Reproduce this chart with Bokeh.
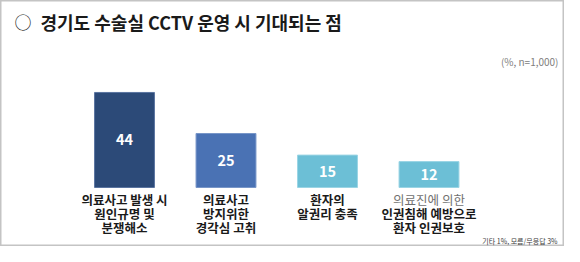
from bokeh.plotting import figure
from bokeh.models import Range1d, Label, ColumnDataSource
from bokeh.core.properties import value
from bokeh.embed import file_html
from bokeh.resources import INLINE
import numpy as np

title_mark = "○"
title_text = "경기도 수술실 CCTV 운영 시 기대되는 점"
unit_note = "(%, n=1,000)"
foot_note = "기타 1%, 모름/무응답 3%"
categories = ["의료사고 발생 시\n원인규명 및\n분쟁해소",
              "의료사고\n방지위한\n경각심 고취",
              "환자의\n알권리 충족",
              "의료진에 의한\n인권침해 예방으로\n환자 인권보호"]
values = [44, 25, 15, 12]
colors = ["#2c4a78", "#4a72b4", "#6cbfd6", "#6cbfd6"]
edge_colors = ["#5a74a0", "#7896c8", "#9ad4e4", "#9ad4e4"]

FONT = "Noto Sans CJK KR"
W, H = 564, 246
px_x = 101.5
px_y = 2.16
x0 = -124 / px_x
y0 = -(H - 187) / px_y


def sx(px):
    return x0 + px / px_x


def sy(px_from_top):
    return y0 + (H - px_from_top) / px_y


p = figure(width=W, height=H, output_backend="svg", toolbar_location=None,
           x_range=Range1d(x0, x0 + W / px_x), y_range=Range1d(y0, y0 + H / px_y),
           min_border=0)
p.axis.visible = False
p.grid.visible = False
p.outline_line_color = "#c4c4c4"
p.outline_line_width = 2
p.background_fill_color = "white"

xs = np.arange(len(categories))
src = ColumnDataSource(dict(
    x=xs, top=values, color=colors, edge=edge_colors,
    mid=[v / 2 for v in values],
    lbl=[str(v) for v in values],
))

p.vbar(x="x", top="top", bottom=0, width=0.59, fill_color="color",
       line_color="edge", line_width=1, source=src)

p.text(x="x", y="mid", text="lbl", source=src, text_font=value(FONT),
       text_font_style="bold", text_font_size="14.5px", text_color="white",
       text_align="center", text_baseline="middle")

# category labels, one text per line
first_center = -12 / px_y
line_h = 14 / px_y
lx, ly, lt, lc, lw = [], [], [], [], []
for i, c in enumerate(categories):
    for j, line in enumerate(c.split("\n")):
        lx.append(xs[i])
        ly.append(first_center - j * line_h)
        lt.append(line)
        light = (i == 3 and j == 0)
        lc.append("#707070" if light else "#1a1a1a")
        lw.append("normal" if light else "bold")
lsrc = ColumnDataSource(dict(x=lx, y=ly, t=lt, c=lc, w=lw))
p.text(x="x", y="y", text="t", source=lsrc, text_font=value(FONT),
       text_font_style="w", text_font_size="12.5px", text_color="c",
       text_align="center", text_baseline="middle")

# title and notes
p.add_layout(Label(x=sx(14), y=sy(21), text=title_mark,
                   text_font=FONT, text_font_size="17px",
                   text_color="#1a1a1a", text_baseline="middle", text_align="left"))
p.add_layout(Label(x=sx(40), y=sy(21), text=title_text,
                   text_font=FONT, text_font_size="18px", text_font_style="bold",
                   text_color="#1a1a1a", text_baseline="middle", text_align="left"))
p.add_layout(Label(x=sx(558), y=sy(61), text=unit_note,
                   text_font=FONT, text_font_size="10px", text_color="#808080",
                   text_baseline="middle", text_align="right"))
p.add_layout(Label(x=sx(557), y=sy(240), text=foot_note,
                   text_font=FONT, text_font_size="7px", text_color="#404040",
                   text_baseline="middle", text_align="right"))

open("out.html", "w").write(file_html(p, INLINE))
